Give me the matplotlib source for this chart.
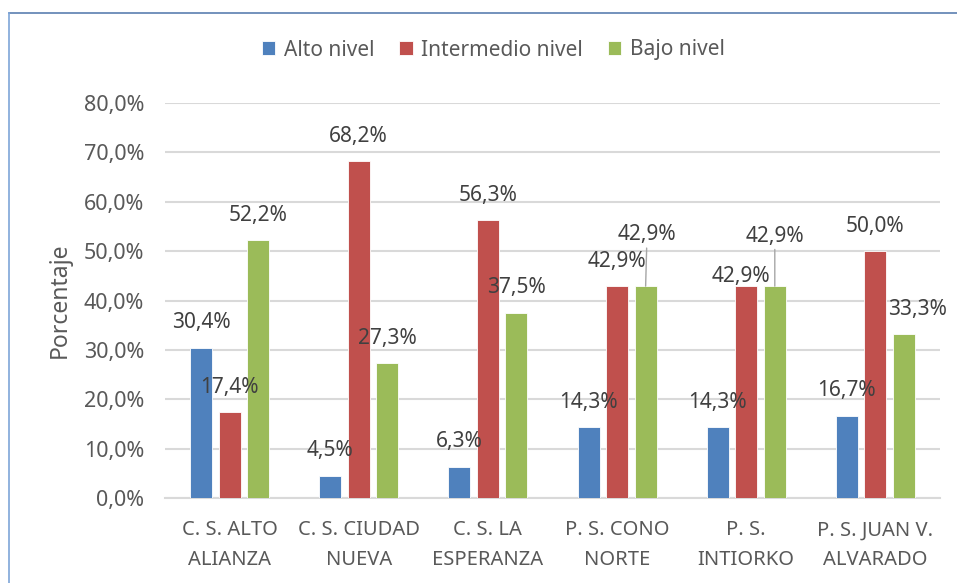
import matplotlib.pyplot as plt
from matplotlib.lines import Line2D
import numpy as np

plt.rcParams['font.family'] = ['Noto Sans', 'DejaVu Sans']

centros = ['C. S. ALTO\nALIANZA', 'C. S. CIUDAD\nNUEVA', 'C. S. LA\nESPERANZA',
           'P. S. CONO\nNORTE', 'P. S.\nINTIORKO', 'P. S. JUAN V.\nALVARADO']
alto = [30.4, 4.5, 6.3, 14.3, 14.3, 16.7]
intermedio = [17.4, 68.2, 56.3, 42.9, 42.9, 50.0]
bajo = [52.2, 27.3, 37.5, 42.9, 42.9, 33.3]
series = ['Alto nivel', 'Intermedio nivel', 'Bajo nivel']
colores = ['#4f81bd', '#c0504d', '#9bbb59']

# label offsets (points) that were moved by hand in the original
ajustes = {(2, 3): (1, 37), (1, 4): (-3.6, 7), (2, 4): (0, 36), (2, 5): (9.4, 17)}
lineas = [(2, 3), (2, 4)]

fig = plt.figure(figsize=(9.57, 5.83), dpi=100)
ax = fig.add_axes([165/957, 1-498/583, (940-165)/957, (498-103)/583])

x = np.arange(len(centros))
w = 0.17
paso = 0.221
for i, (vals, nom, col) in enumerate(zip([alto, intermedio, bajo], series, colores)):
    xs = x + (i - 1) * paso
    ax.bar(xs, vals, w, color=col, label=nom, edgecolor='white', linewidth=0.6, zorder=3)
    for j, v in enumerate(vals):
        dx, dy = ajustes.get((i, j), (0, 18))
        props = None
        if (i, j) in lineas:
            props = dict(arrowstyle='-', color='#a6a6a6', lw=1, shrinkA=0, shrinkB=0)
        ax.annotate(f'{v:.1f}%'.replace('.', ','), xy=(xs[j], v), xytext=(dx, dy),
                    textcoords='offset points', ha='center', va='center',
                    fontsize=15, color='#404040', arrowprops=props, zorder=4)

ax.set_xlim(-0.5, len(centros) - 0.5)
ax.set_ylim(0, 80)
ax.set_yticks(np.arange(0, 81, 10))
ax.set_yticklabels([f'{t:.1f}%'.replace('.', ',') for t in np.arange(0, 81, 10)])
ax.set_xticks(x)
ax.set_xticklabels(centros, linespacing=1.65)
ax.tick_params(axis='y', length=0, pad=15, labelsize=15.5, labelcolor='#595959')
ax.tick_params(axis='x', length=0, pad=16, labelsize=14.5, labelcolor='#595959')
ax.grid(axis='y', color='#d9d9d9', linewidth=1.5, zorder=0)
for s in ['top', 'right', 'left']:
    ax.spines[s].set_visible(False)
ax.spines['bottom'].set_color('#d9d9d9')
ax.spines['bottom'].set_linewidth(1.5)
ax.set_ylabel('Porcentaje', fontsize=16.5, color='#595959', labelpad=9)

fig.legend(loc='center', bbox_to_anchor=(493/957, 1-50/583), ncol=3, frameon=False,
           fontsize=15, labelcolor='#595959', handlelength=0.65, handleheight=0.65,
           handletextpad=0.4, columnspacing=1.2)

fig.add_artist(Line2D([9/957, 1], [1-13/583, 1-13/583], color='#5b7fb0', lw=1.2))
fig.add_artist(Line2D([9/957, 9/957], [0, 1-13/583], color='#7ea5d8', lw=1.2))

fig.savefig('out.png', dpi=100)
